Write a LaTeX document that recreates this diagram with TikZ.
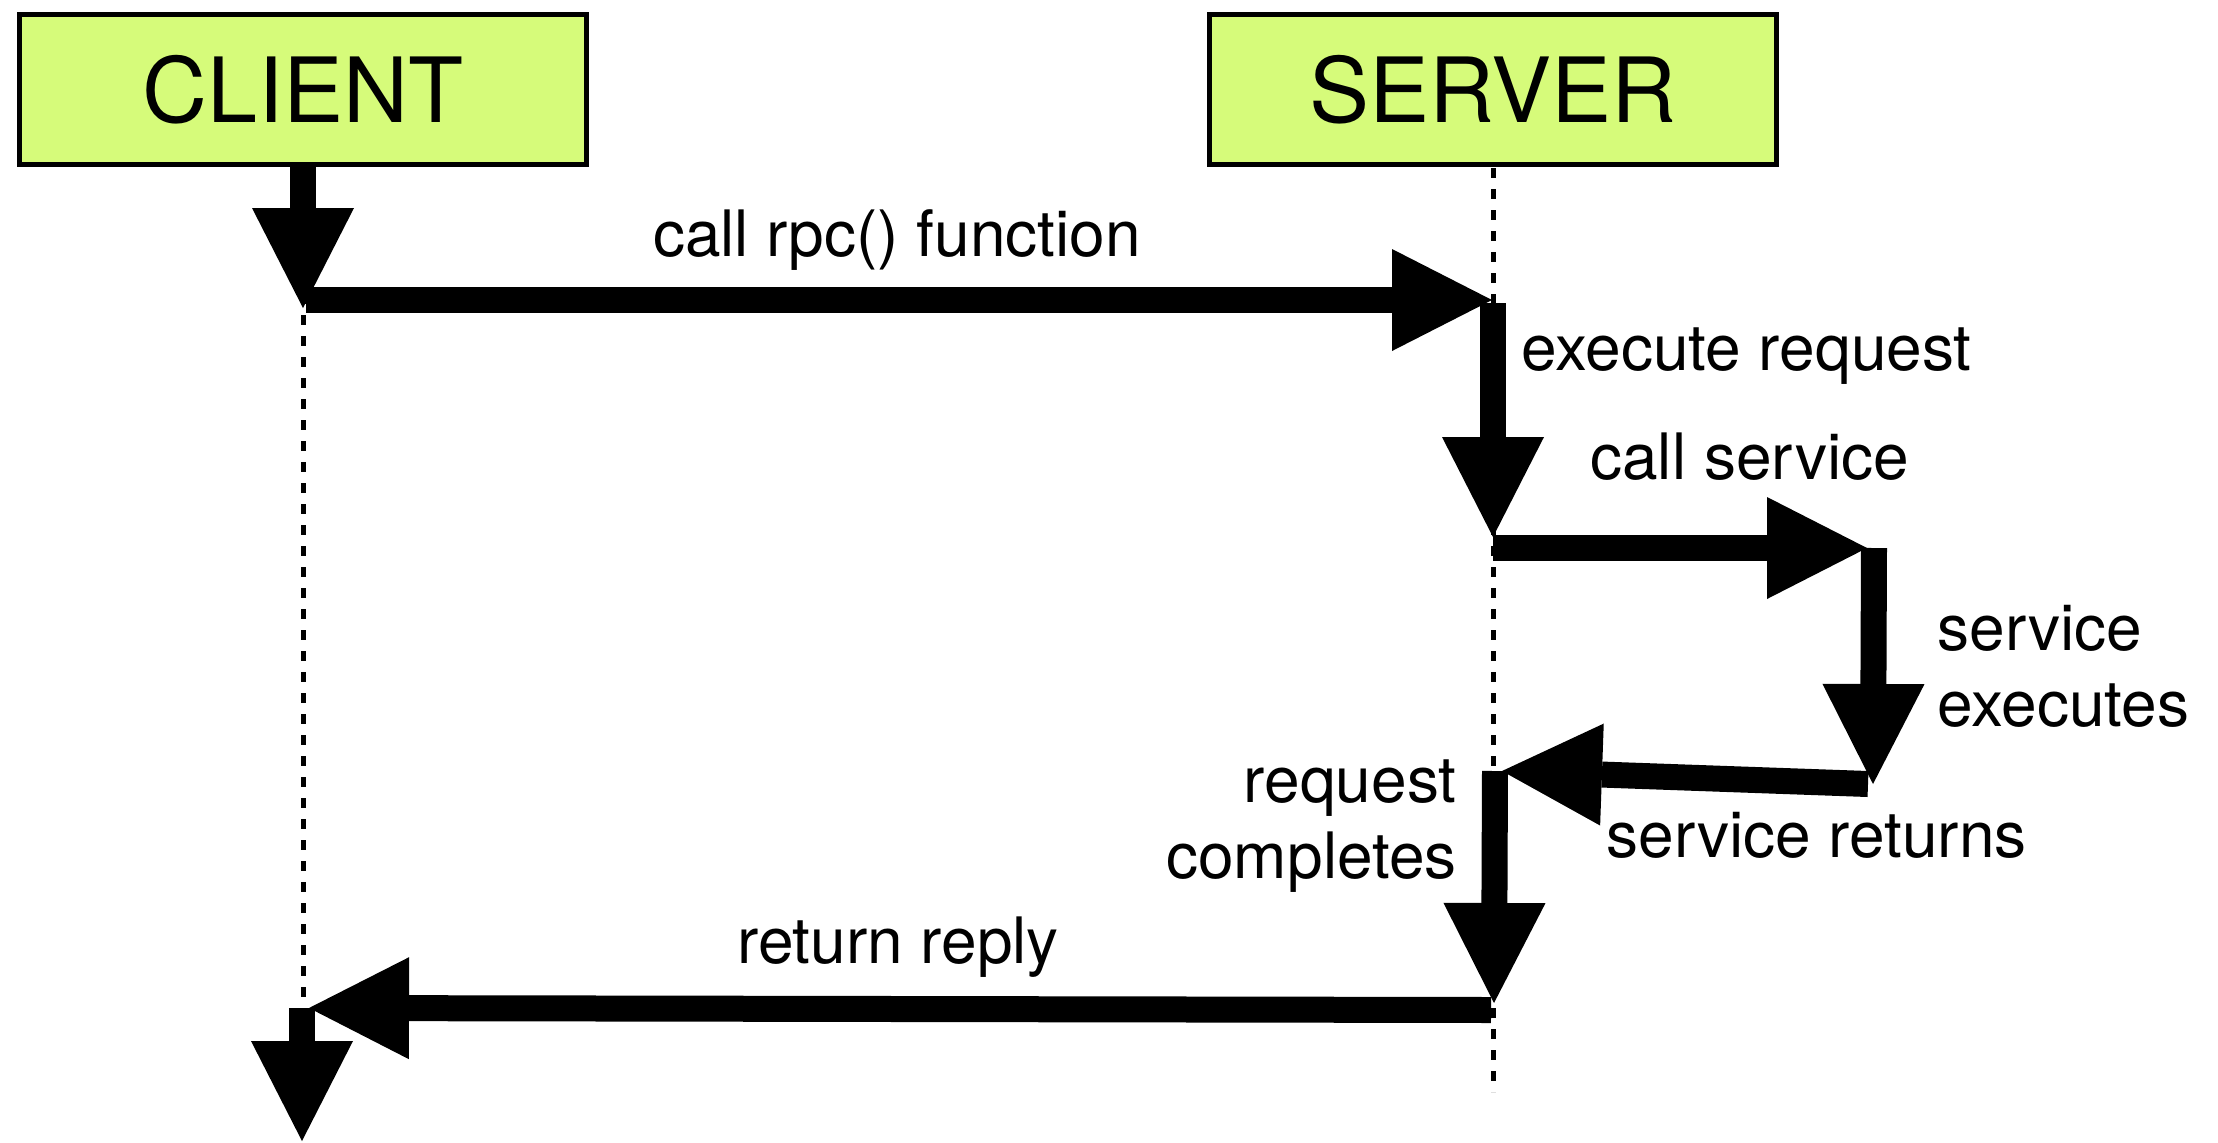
\documentclass[tikz,border=0pt]{standalone}
\usepackage{fontspec}
\setmainfont{TeX Gyre Heros}
\usetikzlibrary{arrows.meta}
\definecolor{boxgreen}{RGB}{214,251,122}
\begin{document}
\begin{tikzpicture}[x=0.5pt,y=-0.5pt,
  actor/.style={draw=black, line width=2.5pt, fill=boxgreen,
    minimum width=283.5pt, minimum height=75pt, inner sep=0pt,
    font=\fontsize{45}{54}\selectfont},
  lifeline/.style={line width=2.5pt, dash pattern=on 5pt off 5.5pt},
  msg/.style={line width=13pt,
    -{Triangle[length=50pt,width=51pt,line width=0pt]}},
  lbl/.style={inner sep=0pt, font=\fontsize{32}{38}\selectfont}]

\useasboundingbox (0,0) rectangle (2218,1142);

% participants
\coordinate (clientEnd) at (303,1008);
\coordinate (serverEnd) at (1493,1092);

% event points along the lifelines
\coordinate (cA) at (303,308);
\coordinate (cB) at (306,300);
\coordinate (sB) at (1492,300);
\coordinate (sC) at (1493,303);
\coordinate (sC2) at (1493,537);
\coordinate (sD) at (1493,548);
\coordinate (xD) at (1867,548);
\coordinate (xE) at (1874,548);
\coordinate (xE2) at (1873,784);
\coordinate (xF) at (1868,784);
\coordinate (sF) at (1502,771);
\coordinate (sG) at (1495,771);
\coordinate (sG2) at (1494,1003);
\coordinate (sH) at (1491,1010);
\coordinate (cH) at (309,1008);
\coordinate (cI) at (302,1008);
\coordinate (cI2) at (302,1141);

% lifelines
\draw[lifeline] (303,168) -- (clientEnd);
\draw[lifeline] (1493,168) -- (serverEnd);

% participant boxes
\node[actor] (client) at (303,89.5) {CLIENT};
\node[actor] (server) at (1493,89.5) {SERVER};

% messages and activations
\draw[msg] (client.south) -- (cA);
\draw[msg] (cB) -- (sB);
\draw[msg] (sC) -- (sC2);
\draw[msg] (sD) -- (xD);
\draw[msg] (xE) -- (xE2);
\draw[msg] (xF) -- (sF);
\draw[msg] (sG) -- (sG2);
\draw[msg] (sH) -- (cH);
\draw[msg] (cI) -- (cI2);

% labels
\node[lbl, anchor=base] (lblCall) at (897,256) {call rpc() function};
\node[lbl, anchor=base west] (lblExec) at (1521,370) {execute request};
\node[lbl, anchor=base west] (lblCallSvc) at (1590,479) {call service};
\node[lbl, anchor=base west] (lblSvcA) at (1937,650) {service};
\node[lbl, anchor=base west] (lblSvcB) at (1937,726) {executes};
\node[lbl, anchor=base east] (lblReqA) at (1457,802) {request};
\node[lbl, anchor=base east] (lblReqB) at (1457,878) {completes};
\node[lbl, anchor=base west] (lblSvcRet) at (1606,857) {service returns};
\node[lbl, anchor=base] (lblRet) at (898,963) {return reply};
\end{tikzpicture}
\end{document}
